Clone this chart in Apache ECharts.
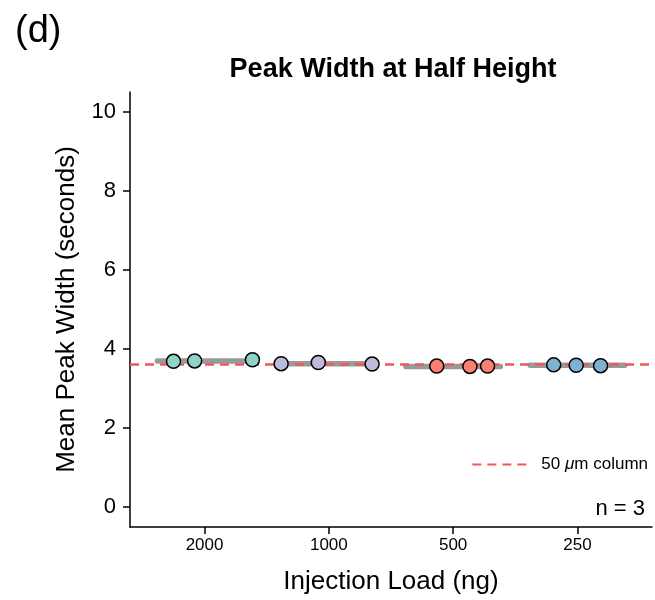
<!DOCTYPE HTML>
<html>
<head>
  <meta http-equiv="Content-Type" content="text/html,charset=utf-8"/>
  <title>Peak Width at Half Height</title>
  <script type="text/javascript" src="https://cdn.jsdelivr.net/npm/echarts@6/dist/echarts.min.js"></script>
  <style>
    html, body { margin: 0; padding: 0; background: #fff; }
    #container { width: 655px; height: 600px; }
  </style>
</head>
<body>
  <div id="container"></div>
  <script type="text/javascript">
    // 进样量分类与刻度
    var loadLabels = ['2000', '1000', '500', '250'];
    var yTicks = [0, 2, 4, 6, 8, 10];

    // 每组三个点（x 含抖动偏移），读自原图
    var x2000 = [0.75, 0.92, 1.385];
    var y2000 = [3.69, 3.70, 3.73];
    var x1000 = [1.616, 1.915, 2.348];
    var y1000 = [3.63, 3.66, 3.62];
    var x500 = [2.868, 3.135, 3.277];
    var y500 = [3.57, 3.56, 3.57];
    var x250 = [3.809, 3.99, 4.186];
    var y250 = [3.60, 3.59, 3.58];

    // 组均值（灰色横线）与 50 μm 参考线
    var groupMeans = [3.70, 3.63, 3.56, 3.59];
    var refValue = 3.61;

    var groupColors = ['#8DD3C7', '#BEBADA', '#FB8072', '#80B1D3'];
    var groupX = [x2000, x1000, x500, x250];
    var groupY = [y2000, y1000, y500, y250];

    var FONT = 'Liberation Sans, Arial, Helvetica, sans-serif';

    function pairs(xs, ys) {
      var out = [];
      for (var i = 0; i < xs.length; i++) out.push([xs[i], ys[i]]);
      return out;
    }

    var series = [];

    // 参考虚线
    series.push({
      name: '50 μm column',
      type: 'line',
      data: [[0.4, refValue], [4.6, refValue]],
      symbol: 'none',
      silent: true,
      z: 3,
      lineStyle: { color: '#F0575C', width: 2.5, type: [9, 6] }
    });

    // 灰色均值横线
    for (var g = 0; g < 4; g++) {
      series.push({
        type: 'line',
        data: [[g + 1 - 0.38, groupMeans[g]], [g + 1 + 0.38, groupMeans[g]]],
        symbol: 'none',
        silent: true,
        z: 2,
        lineStyle: { color: '#999999', width: 5.5, cap: 'round' }
      });
    }

    // 散点
    for (var k = 0; k < 4; k++) {
      series.push({
        type: 'scatter',
        data: pairs(groupX[k], groupY[k]),
        symbolSize: 14,
        z: 5,
        itemStyle: { color: groupColors[k], borderColor: '#000', borderWidth: 1.5, opacity: 1 }
      });
    }

    var myChart = echarts.init(document.getElementById('container'));
    var option = {
      animation: false,
      backgroundColor: '#fff',
      title: [
        { text: '(d)', left: 10, top: 8, textStyle: { fontFamily: FONT, fontSize: 38, fontWeight: 'normal', color: '#000' } },
        { text: 'Peak Width at Half Height', left: 388, textAlign: 'center', top: 51,
          textStyle: { fontFamily: FONT, fontSize: 27, fontWeight: 'bold', color: '#000' } },
        { text: 'n = 3', right: 5, top: 493, textStyle: { fontFamily: FONT, fontSize: 22, fontWeight: 'normal', color: '#000' } }
      ],
      legend: {
        data: ['50 μm column'],
        right: 2,
        top: 451,
        itemWidth: 56,
        itemHeight: 14,
        itemStyle: { opacity: 0 },
        formatter: function () { return '50 {i|μ}m column'; },
        textStyle: {
          fontFamily: FONT, fontSize: 17, color: '#000', padding: [0, 0, 0, 8],
          rich: { i: { fontFamily: FONT, fontSize: 17, fontStyle: 'italic', color: '#000' } }
        }
      },
      grid: { left: 130, right: 3, top: 92, bottom: 73, containLabel: false },
      xAxis: {
        type: 'value',
        min: 0.4,
        max: 4.6,
        name: 'Injection Load (ng)',
        nameLocation: 'middle',
        nameGap: 42,
        nameTextStyle: { fontFamily: FONT, fontSize: 26, color: '#000' },
        axisLine: { show: true, onZero: false, lineStyle: { color: '#000', width: 1.5 } },
        axisTick: { show: true, customValues: [1, 2, 3, 4], length: 7, lineStyle: { color: '#000', width: 1.5 } },
        axisLabel: {
          customValues: [1, 2, 3, 4],
          formatter: function (v) { return loadLabels[Math.round(v) - 1] || ''; },
          fontFamily: FONT, fontSize: 17, color: '#000', margin: 10
        },
        splitLine: { show: false }
      },
      yAxis: {
        type: 'value',
        min: -0.5,
        max: 10.5,
        name: 'Mean Peak Width (seconds)',
        nameLocation: 'middle',
        nameGap: 50,
        nameTextStyle: { fontFamily: FONT, fontSize: 26, color: '#000' },
        axisLine: { show: true, onZero: false, lineStyle: { color: '#000', width: 1.5 } },
        axisTick: { show: true, customValues: yTicks, length: 7, lineStyle: { color: '#000', width: 1.5 } },
        axisLabel: { customValues: yTicks, fontFamily: FONT, fontSize: 22, color: '#000', margin: 14 },
        splitLine: { show: false }
      },
      series: series
    };
    myChart.setOption(option, true);
  </script>
</body>
</html>
